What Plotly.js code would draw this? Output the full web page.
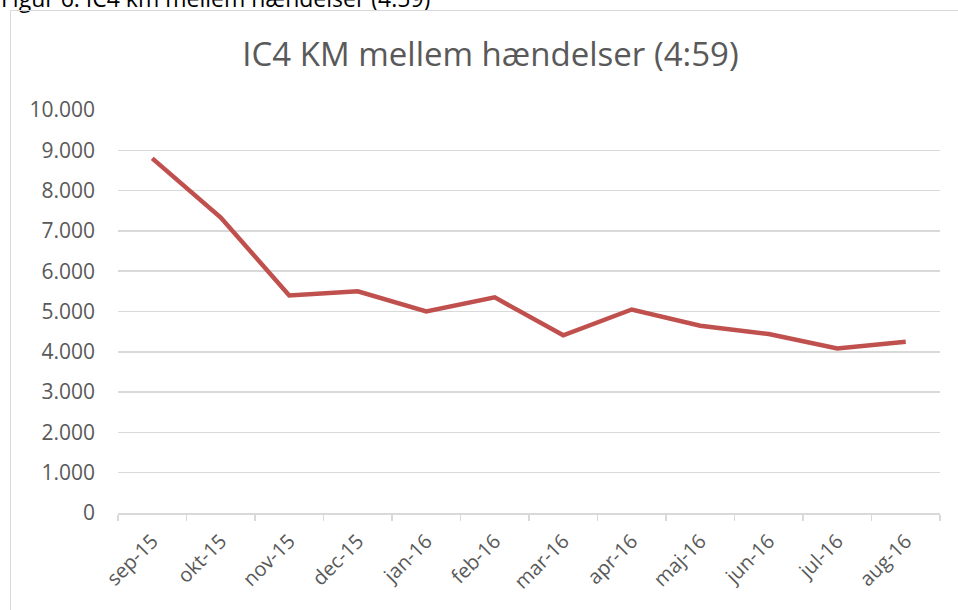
<!DOCTYPE html>
<html>
<head>
<meta charset="utf-8">
<script src="https://cdn.plot.ly/plotly-3.0.1.min.js"></script>
<style>
  html, body { margin: 0; padding: 0; background: #fff; width: 958px; height: 610px; overflow: hidden; }
  #caption { position: absolute; left: 1px; top: -18px; font-family: "Open Sans", sans-serif; font-size: 23px; color: #000; white-space: nowrap; }
  #frame { position: absolute; left: 10px; top: 10px; width: 960px; height: 640px; border: 1px solid #d9d9d9; box-sizing: border-box; }
  #chart { position: absolute; left: 0; top: 0; width: 958px; height: 610px; }
</style>
</head>
<body>
<div id="caption">Figur 6: IC4 km mellem hændelser (4:59)</div>
<div id="frame"></div>
<div id="chart"></div>
<script>
const months = ["sep-15","okt-15","nov-15","dec-15","jan-16","feb-16","mar-16","apr-16","maj-16","jun-16","jul-16","aug-16"];
const kmValues = [8800, 7330, 5400, 5500, 5000, 5350, 4410, 5050, 4645, 4440, 4085, 4250];
const yTickVals = [0,1000,2000,3000,4000,5000,6000,7000,8000,9000,10000];
const yTickText = ["0","1.000","2.000","3.000","4.000","5.000","6.000","7.000","8.000","9.000","10.000"];
const chartTitle = "IC4 KM mellem hændelser (4:59)";

const trace = {
  x: months,
  y: kmValues,
  type: "scatter",
  mode: "lines",
  line: { color: "#c0504d", width: 4.5 },
  hoverinfo: "skip"
};

const layout = {
  width: 958, height: 610,
  paper_bgcolor: "rgba(0,0,0,0)",
  plot_bgcolor: "rgba(0,0,0,0)",
  margin: { l: 118, r: 18, t: 110, b: 97 },
  showlegend: false,
  title: {
    text: chartTitle,
    font: { family: "Open Sans, sans-serif", size: 33, color: "#595959" },
    x: 0.512, xanchor: "center",
    y: 1 - 54/610, yanchor: "middle", yref: "container"
  },
  xaxis: {
    type: "category",
    range: [-0.5, 11.5],
    tickangle: -45,
    tickson: "boundaries",
    ticks: "outside", ticklen: 6, tickcolor: "#d9d9d9", tickwidth: 1.5,
    ticklabelstandoff: 7,
    showline: true, linecolor: "#d9d9d9", linewidth: 1.5,
    showgrid: false, zeroline: false,
    tickfont: { family: "Open Sans, sans-serif", size: 20, color: "#595959" },
    fixedrange: true
  },
  yaxis: {
    range: [0, 10000],
    tickvals: yTickVals,
    ticktext: yTickText,
    showgrid: true, gridcolor: "#d9d9d9", gridwidth: 1.5,
    zeroline: false, showline: false, ticks: "",
    ticklabelstandoff: 22,
    tickfont: { family: "Open Sans, sans-serif", size: 21, color: "#595959" },
    fixedrange: true
  }
};

Plotly.newPlot("chart", [trace], layout, { displayModeBar: false, staticPlot: true });
</script>
</body>
</html>
